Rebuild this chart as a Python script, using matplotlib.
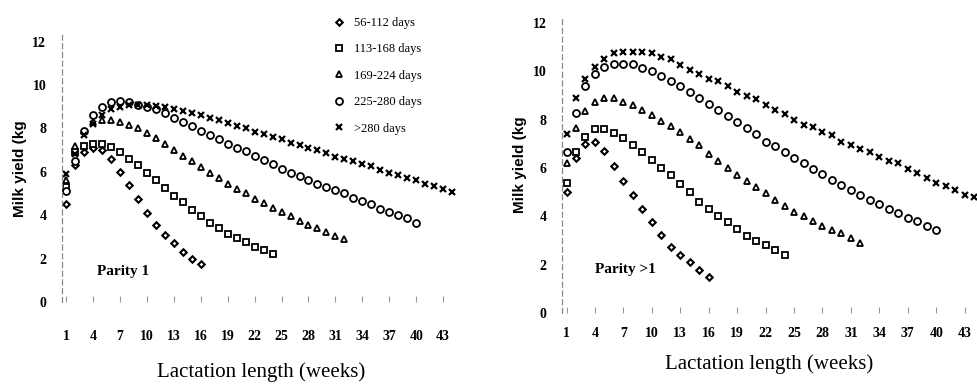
import matplotlib.pyplot as plt

# week numbers for each lactation-length group
weeks_16 = list(range(1, 17))
weeks_24 = list(range(1, 25))
weeks_32 = list(range(1, 33))
weeks_40 = list(range(1, 41))
weeks_44 = list(range(1, 45))

group_labels = ['56-112 days', '113-168 days', '169-224 days', '225-280 days', '>280 days']

# Parity 1 (kg/day)
p1_56_112 = [4.5, 6.3, 6.9, 7.1, 7.0, 6.6, 6.0, 5.4, 4.75, 4.1, 3.55, 3.1, 2.7, 2.3, 2.0, 1.75]
p1_113_168 = [5.3, 6.9, 7.2, 7.3, 7.3, 7.15, 6.9, 6.6, 6.3, 5.95, 5.6, 5.25, 4.9, 4.6, 4.25, 3.95,
              3.65, 3.4, 3.15, 2.95, 2.75, 2.55, 2.4, 2.2]
p1_169_224 = [5.6, 7.2, 7.9, 8.3, 8.4, 8.4, 8.3, 8.15, 8.0, 7.8, 7.55, 7.3, 7.0, 6.75, 6.5, 6.2,
              5.95, 5.7, 5.45, 5.2, 5.0, 4.75, 4.55, 4.35, 4.15, 3.95, 3.75, 3.55, 3.4, 3.2, 3.05, 2.9]
p1_225_280 = [5.1, 6.5, 7.9, 8.6, 9.0, 9.2, 9.25, 9.2, 9.1, 9.0, 8.9, 8.7, 8.5, 8.3, 8.1, 7.9,
              7.7, 7.5, 7.3, 7.1, 6.95, 6.75, 6.55, 6.35, 6.15, 5.95, 5.8, 5.6, 5.45, 5.3, 5.15, 5.0,
              4.8, 4.65, 4.5, 4.3, 4.15, 4.0, 3.85, 3.65]
p1_280 = [5.9, 6.8, 7.7, 8.2, 8.6, 8.9, 9.0, 9.1, 9.1, 9.1, 9.05, 9.0, 8.9, 8.8, 8.7, 8.6,
          8.5, 8.4, 8.25, 8.1, 8.0, 7.85, 7.75, 7.6, 7.5, 7.35, 7.25, 7.1, 7.0, 6.85, 6.7, 6.6,
          6.5, 6.35, 6.25, 6.1, 5.95, 5.85, 5.7, 5.6, 5.45, 5.35, 5.2, 5.05]

# Parity >1 (kg/day)
p2_56_112 = [5.0, 6.4, 7.0, 7.1, 6.7, 6.1, 5.45, 4.9, 4.3, 3.75, 3.25, 2.75, 2.4, 2.1, 1.8, 1.5]
p2_113_168 = [5.4, 6.65, 7.3, 7.6, 7.6, 7.45, 7.25, 6.95, 6.65, 6.35, 6.0, 5.7, 5.35, 5.0, 4.6, 4.3,
              4.0, 3.75, 3.5, 3.2, 3.0, 2.8, 2.6, 2.4]
p2_169_224 = [6.2, 7.65, 8.35, 8.75, 8.9, 8.9, 8.75, 8.6, 8.4, 8.2, 7.95, 7.75, 7.5, 7.2, 6.95, 6.6,
              6.3, 6.0, 5.7, 5.45, 5.2, 4.95, 4.7, 4.45, 4.2, 4.0, 3.8, 3.6, 3.45, 3.3, 3.1, 2.9]
p2_225_280 = [6.65, 8.3, 9.4, 9.9, 10.2, 10.3, 10.3, 10.3, 10.15, 10.0, 9.8, 9.6, 9.4, 9.15, 8.9, 8.65,
              8.4, 8.15, 7.9, 7.65, 7.4, 7.1, 6.9, 6.65, 6.4, 6.2, 5.95, 5.75, 5.5, 5.3, 5.1, 4.9,
              4.7, 4.5, 4.3, 4.15, 3.95, 3.8, 3.6, 3.45]
p2_280 = [7.4, 8.9, 9.7, 10.2, 10.5, 10.75, 10.8, 10.8, 10.8, 10.75, 10.6, 10.5, 10.25, 10.05, 9.9, 9.7,
          9.6, 9.4, 9.15, 9.0, 8.85, 8.6, 8.4, 8.25, 8.0, 7.8, 7.7, 7.5, 7.35, 7.1, 6.95, 6.8,
          6.65, 6.45, 6.3, 6.2, 5.95, 5.8, 5.6, 5.4, 5.25, 5.1, 4.9, 4.8]

xticks = list(range(1, 44, 3))
yticks = [0, 2, 4, 6, 8, 10, 12]

plt.rcParams['font.family'] = ['Liberation Serif', 'DejaVu Serif']

fig = plt.figure(figsize=(9.77, 3.87), dpi=100)
ax1 = fig.add_axes([0.063, 0.22, 0.409, 0.689])
ax2 = fig.add_axes([0.575, 0.191, 0.425, 0.768])

styles = [
    dict(marker='D', ms=3.3, mew=1.5),
    dict(marker='s', ms=4.8, mew=1.3),
    dict(marker='^', ms=4.3, mew=1.3),
    dict(marker='o', ms=5.0, mew=1.3),
    dict(marker='x', ms=4.8, mew=1.6),
]


def draw(ax, series, label_text, text_pos, xlim_right, tick_pad, xlabel_pad):
    xs = [weeks_16, weeks_24, weeks_32, weeks_40, weeks_44]
    for x, y, lab, st in zip(xs, series, group_labels, styles):
        ax.plot(x, y, linestyle='none', color='black', mfc='white', mec='black',
                label=lab, **st)
    ax.set_xlim(0.5, xlim_right)
    ax.set_ylim(0, 12.3)
    ax.set_xticks(xticks)
    ax.set_yticks(yticks)
    ax.set_xticklabels([str(t) for t in xticks], fontsize=10, fontweight='bold')
    ax.set_yticklabels([str(t) for t in yticks], fontsize=10, fontweight='bold')
    ax.tick_params(axis='x', direction='in', length=4, color='#999999', pad=tick_pad)
    ax.tick_params(axis='y', length=0, pad=11)
    for s in ['top', 'right', 'bottom']:
        ax.spines[s].set_visible(False)
    ax.spines['left'].set_color('#888888')
    ax.spines['left'].set_linestyle((0, (4, 3)))
    ax.spines['left'].set_linewidth(0.9)
    ax.set_ylabel('Milk yield (kg', family=['Liberation Sans', 'DejaVu Sans'],
                  fontsize=11, fontweight='bold', labelpad=4)
    ax.set_xlabel('Lactation length (weeks)', fontsize=15, labelpad=xlabel_pad)
    ax.text(text_pos[0], text_pos[1], label_text, fontsize=11, fontweight='bold',
            va='center', ha='left')


draw(ax1, [p1_56_112, p1_113_168, p1_169_224, p1_225_280, p1_280], 'Parity 1', (4.5, 1.4), 45, 20, 14)
draw(ax2, [p2_56_112, p2_113_168, p2_169_224, p2_225_280, p2_280], 'Parity >1', (4.0, 1.8), 44.3, 10, 10)

ax1.legend(loc='upper left', bbox_to_anchor=(0.333, 0.972), bbox_transform=fig.transFigure,
           frameon=False, fontsize=9, labelspacing=1.15, handlelength=1.2, handletextpad=0.6,
           borderpad=0)

fig.savefig('out.png', dpi=100)
